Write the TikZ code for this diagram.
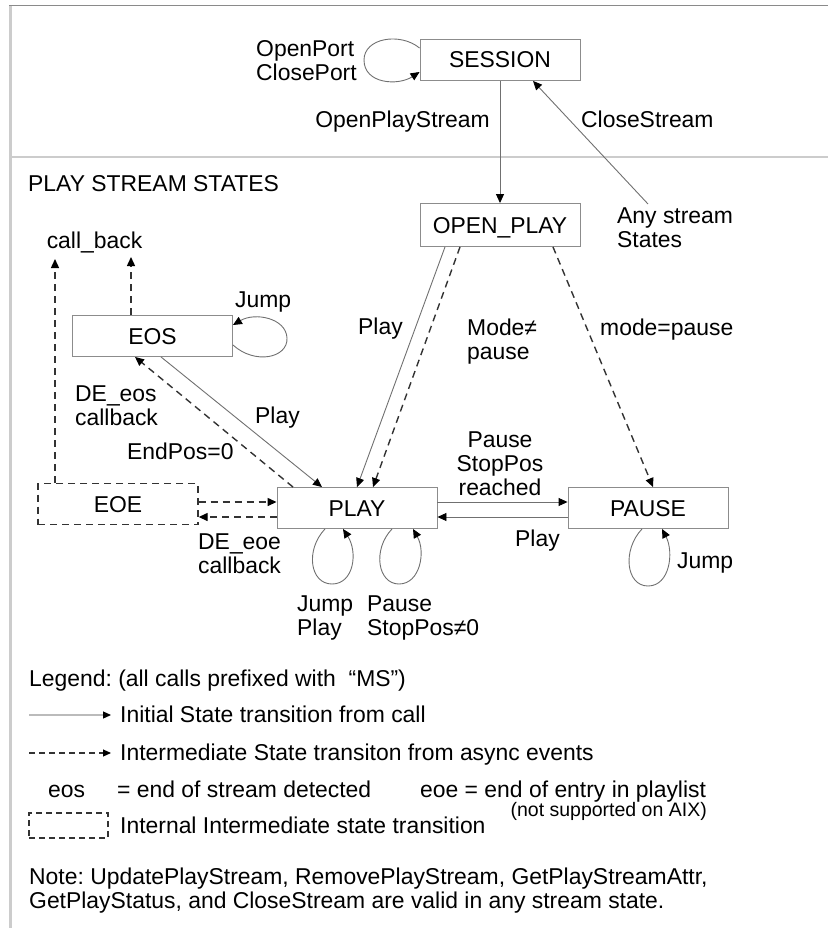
\documentclass[tikz,border=0pt]{standalone}
\usepackage{fontspec}
\setmainfont{Liberation Sans}
\usetikzlibrary{arrows.meta}
\definecolor{framegray}{HTML}{8A8A8A}
\definecolor{ruleGray}{HTML}{CCCCCC}
\definecolor{boxgray}{HTML}{8C8C8C}
\definecolor{solidgray}{HTML}{707070}
\definecolor{dashgray}{HTML}{333333}
\definecolor{legendgray}{HTML}{BBBBBB}
\begin{document}
\begin{tikzpicture}[x=1pt,y=-1pt,
  every node/.style={font=\fontsize{22.9}{24}\selectfont\frenchspacing, inner sep=0pt},
  state/.style={draw=boxgray, line width=0.9pt, minimum width=160pt,
    minimum height=41pt, text height=16pt, text depth=0pt},
  endtip/.style={-{Triangle[length=9pt,width=8pt,color=black]}},
  smalltip/.style={-{Triangle[length=8pt,width=7pt,color=black]}},
  solidarr/.style={endtip, draw=solidgray, line width=0.9pt},
  dasharr/.style={endtip, draw=dashgray, line width=1.4pt, dash pattern=on 7pt off 5pt},
  lbl/.style={align=left, anchor=north west},
  small/.style={font=\fontsize{19.5}{21}\selectfont\frenchspacing},
]
\useasboundingbox (0,0) rectangle (828,928);

% frame and separator between session and stream sections
\draw[framegray, line width=1pt] (9,6) -- (828,6);
\draw[ruleGray, line width=3pt] (10.5,6) -- (10.5,928);
\draw[ruleGray, line width=2pt] (12,157) -- (828,157);

% states
\node[state] (SESSION) at (500,60) {SESSION};
\node[state, minimum height=43pt] (OPENPLAY) at (500,225) {OPEN\_PLAY};
\node[state] (EOS) at (152.5,336) {EOS};
\node[state, draw=dashgray, line width=1.4pt, dash pattern=on 7pt off 5pt] (EOE) at (118,504) {EOE};
\node[state] (PLAY) at (357,508) {PLAY};
\node[state] (PAUSE) at (648,508) {PAUSE};

% free ends
\coordinate (anyfrom) at (648,204);
\coordinate (cbleft) at (55,259);
\coordinate (cbright) at (131,257);

% session section
\draw[solidarr] ([yshift=12pt]SESSION.west) .. controls (400,32) and (364,38) .. (364,60)
  .. controls (364,84) and (398,86) .. ([yshift=-12pt]SESSION.west);
\node[lbl] (openport) at (256,40) {OpenPort\\ClosePort};
\draw[solidarr] (SESSION.south) -- (OPENPLAY.north);
\node[anchor=base east] (ops) at (490,128) {OpenPlayStream};
\draw[solidarr] (anyfrom) -- ([xshift=33pt]SESSION.south);
\node[anchor=base west] (cs) at (581,128) {CloseStream};
\node[lbl] (anystates) at (617,208) {Any stream\\States};

% play stream states
\node[anchor=base west] (title) at (28,191) {PLAY STREAM STATES};
\node[anchor=base] (callback) at (94.5,248) {call\_back};
\draw[dasharr] ([xshift=-63pt]EOE.north) -- (cbleft);
\draw[dasharr] ([xshift=-21.5pt]EOS.north) -- (cbright);

% EOS
\draw[solidarr] ([yshift=-9pt]EOS.east) .. controls (255,365) and (288,358) .. (287,338)
  .. controls (286,318) and (255,312) .. ([yshift=11pt]EOS.east);
\node[anchor=base west] (jumpeos) at (235,307) {Jump};
\draw[solidarr] ([xshift=8.5pt]EOS.south) -- ([xshift=-35pt]PLAY.north);
\draw[dasharr] ([xshift=-64pt]PLAY.north) -- ([xshift=-17.5pt]EOS.south);
\node[lbl] (deeos) at (75,386) {DE\_eos\\callback};
\node[anchor=base west] (playeos) at (255,423) {Play};
\node[anchor=base west] (endpos) at (127,459) {EndPos=0};

% OPEN_PLAY
\draw[solidarr] ([xshift=-55pt]OPENPLAY.south) -- (PLAY.north);
\draw[dasharr] ([xshift=-40pt]OPENPLAY.south) -- ([xshift=16pt]PLAY.north);
\draw[dasharr] ([xshift=53pt]OPENPLAY.south) -- ([xshift=5pt]PAUSE.north);
\node[anchor=base west] (playop) at (358,334) {Play};
\node[lbl] (modene) at (467,319) {Mode≠\\pause};
\node[anchor=base west] (modeeq) at (600,335) {mode=pause};

% EOE <-> PLAY
\draw[dasharr] ([yshift=6pt]PLAY.west -| EOE.east) -- ([yshift=6pt]PLAY.west);
\draw[dasharr] ([yshift=-9pt]PLAY.west) -- ([yshift=-9pt]PLAY.west -| EOE.east);
\node[lbl] (deeoe) at (198,534) {DE\_eoe\\callback};

% PLAY <-> PAUSE
\draw[solidarr] ([yshift=6pt]PLAY.east) -- ([yshift=6pt]PLAY.east -| PAUSE.west);
\draw[solidarr] ([yshift=-9pt]PAUSE.west) -- ([yshift=-9pt]PAUSE.west -| PLAY.east);
\node[align=center, anchor=north] (pausereached) at (500,432) {Pause\\StopPos\\reached};
\node[anchor=base west] (playpause) at (515,546) {Play};

% self loops below PLAY and PAUSE
\draw[solidarr] ([xshift=-32pt]PLAY.south) .. controls (305,550) and (310,584) .. (332,584)
  .. controls (354,584) and (358,552) .. ([xshift=-14pt]PLAY.south);
\draw[solidarr] ([xshift=35pt]PLAY.south) .. controls (372,550) and (378,584) .. (399,584)
  .. controls (420,584) and (426,552) .. ([xshift=56pt]PLAY.south);
\node[lbl] (jumpplay) at (297,596) {Jump\\Play};
\node[lbl] (pausestop) at (367,596) {Pause\\StopPos≠0};
\draw[solidarr] ([xshift=-6pt]PAUSE.south) .. controls (622,550) and (626,586) .. (648,586)
  .. controls (670,586) and (674,552) .. ([xshift=14pt]PAUSE.south);
\node[anchor=base west] (jumppause) at (677,568) {Jump};

% legend
\node[anchor=base west] (legend) at (29,686) {Legend: (all calls prefixed with \ “MS”)};
\coordinate (lgsolidA) at (29,715);
\coordinate (lgsolidB) at (111,715);
\draw[smalltip, draw=legendgray, line width=1.2pt] (lgsolidA) -- (lgsolidB);
\node[anchor=base west] (lgsolidtxt) at (120,722) {Initial State transition from call};
\coordinate (lgdashA) at (29,753);
\coordinate (lgdashB) at (111,753);
\draw[smalltip, draw=dashgray, line width=1.1pt, dash pattern=on 6pt off 4pt] (lgdashA) -- (lgdashB);
\node[anchor=base west] (lgdashtxt) at (120,760) {Intermediate State transiton from async events};
\node[anchor=base west] (eos) at (48,797) {eos};
\node[anchor=base west] (eosdef) at (117,797) {= end of stream detected};
\node[anchor=base west] (eoedef) at (420,797) {eoe = end of entry in playlist};
\node[anchor=base east, small] (aix) at (707,816) {(not supported on AIX)};
\node[draw=dashgray, line width=1.1pt, dash pattern=on 6pt off 4pt,
  minimum width=79pt, minimum height=25pt] (lgbox) at (68.5,825.5) {};
\node[anchor=base west] (lgboxtxt) at (120,833) {Internal Intermediate state transition};
\node[lbl] (note) at (29,868) {Note: UpdatePlayStream, RemovePlayStream, GetPlayStreamAttr,\\GetPlayStatus, and CloseStream are valid in any stream state.};
\end{tikzpicture}
\end{document}
